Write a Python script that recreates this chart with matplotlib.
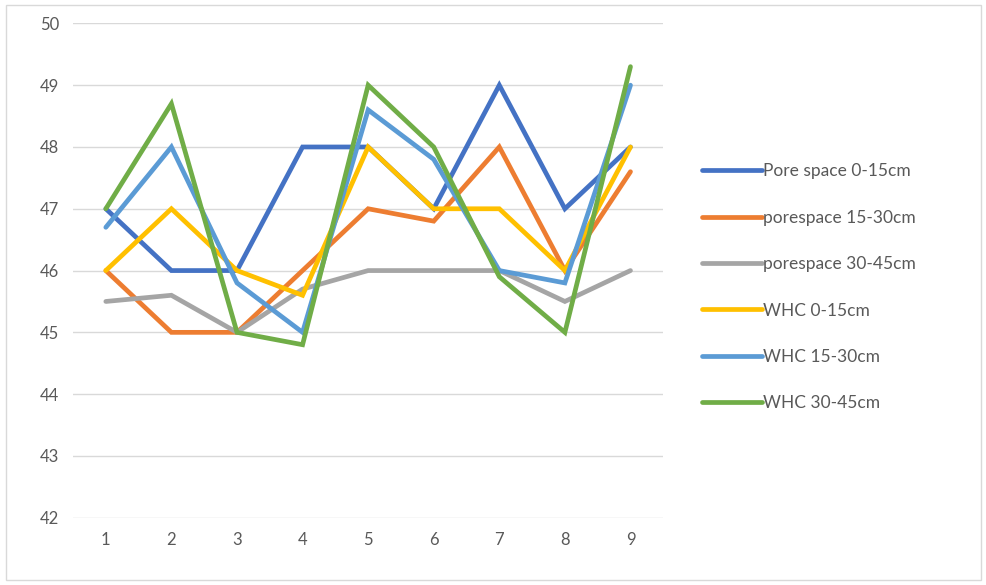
import matplotlib.pyplot as plt
from matplotlib.patches import Rectangle

plt.rcParams['font.family'] = ['Lato', 'DejaVu Sans']

x = [1, 2, 3, 4, 5, 6, 7, 8, 9]
pore_0_15 = [47, 46, 46, 48, 48, 47, 49, 47, 48]
pore_15_30 = [46, 45, 45, 46, 47, 46.8, 48, 46, 47.6]
pore_30_45 = [45.5, 45.6, 45, 45.7, 46, 46, 46, 45.5, 46]
whc_0_15 = [46, 47, 46, 45.6, 48, 47, 47, 46, 48]
whc_15_30 = [46.7, 48, 45.8, 45, 48.6, 47.8, 46, 45.8, 49]
whc_30_45 = [47, 48.7, 45, 44.8, 49, 48, 45.9, 45, 49.3]

labels = ["Pore space 0-15cm", "porespace 15-30cm", "porespace 30-45cm",
          "WHC 0-15cm", "WHC 15-30cm", "WHC 30-45cm"]
colors = ["#4472C4", "#ED7D31", "#A5A5A5", "#FFC000", "#5B9BD5", "#70AD47"]
series = [pore_0_15, pore_15_30, pore_30_45, whc_0_15, whc_15_30, whc_30_45]

fig = plt.figure(figsize=(9.87, 5.85), dpi=100)
ax = fig.add_axes([0.074, 0.115, 0.598, 0.845])

for s, c, lab in zip(series, colors, labels):
    ax.plot(x, s, color=c, lw=3.4, label=lab, solid_capstyle='round', solid_joinstyle='miter')

ax.set_xlim(0.5, 9.5)
ax.set_ylim(42, 50)
ax.set_xticks(x)
ax.set_yticks(range(42, 51))
ax.grid(axis='y', color='#D9D9D9', lw=1)
ax.set_axisbelow(True)
for sp in ax.spines.values():
    sp.set_visible(False)
ax.tick_params(length=0, labelsize=12, labelcolor='#595959', pad=10)

ax.legend(loc='center left', bbox_to_anchor=(1.04, 0.466), frameon=False,
          fontsize=12.5, labelcolor='#595959', handlelength=3.4, handletextpad=0.1,
          labelspacing=1.75)

fig.patches.append(Rectangle((0.006, 0.008), 0.988, 0.984, transform=fig.transFigure,
                             fill=False, edgecolor='#D9D9D9', lw=1))

fig.savefig("out.png", dpi=100)
